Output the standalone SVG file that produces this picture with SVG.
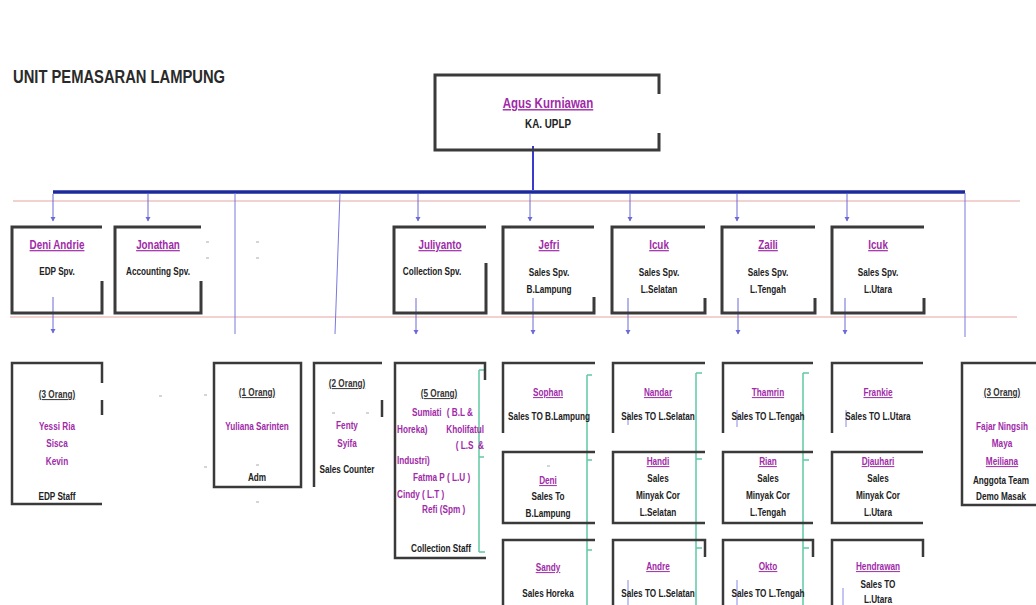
<svg xmlns="http://www.w3.org/2000/svg" width="1036" height="605" viewBox="0 0 1036 605">
<defs>
<marker id="ad" markerUnits="userSpaceOnUse" markerWidth="6" markerHeight="6" refX="3" refY="5" viewBox="0 0 6 6" orient="0">
<path d="M0.5,1 L3,5.5 L5.5,1 Z" fill="#6a6ad8"/>
</marker>
</defs>
<style>
text{font-family:"Liberation Sans",Arial,sans-serif;font-weight:bold;text-anchor:middle}
.title{font-size:18px;fill:#2a2a2a;text-anchor:start}
.boss{font-size:14px;fill:#a02aa8;text-decoration:underline}
.bt{font-size:12px;fill:#222}
.nm{font-size:12px;fill:#a02aa8;text-decoration:underline}
.t{font-size:10px;fill:#222}
.sn{font-size:10px;fill:#a02aa8}
.su{font-size:10px;fill:#a02aa8;text-decoration:underline}
.og{font-size:10px;fill:#333;text-decoration:underline}
.st{text-anchor:start}
.en{text-anchor:end}
.box{fill:none;stroke:#3a3a3a;stroke-width:3}
.box2{fill:none;stroke:#3a3a3a;stroke-width:2.5}
.pink{stroke:#e6a3a3;stroke-width:1;fill:none}
.vl{stroke:#7878e0;stroke-width:1;fill:none}
.arr{stroke:#6a6ad8;stroke-width:1;fill:none;marker-end:url(#ad)}
.grn{stroke:#62c9a2;stroke-width:1.5;fill:none}
.mk{stroke:#aaa;stroke-width:1}
.bm{stroke:#8a8ae6;stroke-width:1}
</style>
<rect width="1036" height="605" fill="#fff"/>
<text class="title" transform="matrix(.82 0 0 1 13 83)">UNIT PEMASARAN LAMPUNG</text>

<g id="connectors">
<line class="pink" x1="13" y1="201" x2="1020" y2="201"/>
<line class="pink" x1="10" y1="317" x2="1017" y2="317"/>
<line x1="533" y1="146" x2="533" y2="190" stroke="#3a3ad0" stroke-width="2"/>
<line x1="53" y1="192" x2="965" y2="192" stroke="#1c2a9c" stroke-width="3.5"/>
<line class="vl" x1="235" y1="193" x2="235" y2="334"/>
<line class="vl" x1="340" y1="193" x2="335" y2="334"/>
<line class="vl" x1="965" y1="193" x2="965" y2="337"/>
<line class="arr" x1="53" y1="194" x2="53" y2="221"/>
<line class="arr" x1="148" y1="194" x2="148" y2="221"/>
<line class="arr" x1="418" y1="194" x2="418" y2="221"/>
<line class="arr" x1="530" y1="194" x2="530" y2="221"/>
<line class="arr" x1="630" y1="194" x2="630" y2="221"/>
<line class="arr" x1="737" y1="194" x2="737" y2="221"/>
<line class="arr" x1="847" y1="194" x2="847" y2="221"/>
<line class="arr" x1="53" y1="297" x2="53" y2="333"/>
<line class="arr" x1="416" y1="298" x2="416" y2="334"/>
<line class="arr" x1="533" y1="298" x2="533" y2="334"/>
<line class="arr" x1="628" y1="298" x2="628" y2="334"/>
<line class="arr" x1="738" y1="298" x2="738" y2="334"/>
<line class="arr" x1="845" y1="298" x2="845" y2="334"/>
<path class="grn" d="M479,370 V552 M479,370 h6 M479,457 h5 M479,552 h6"/>
<path class="grn" d="M587,375 V605 M587,375 h5 M587,460 h5 M587,550 h5"/>
<path class="grn" d="M696,373 V605 M696,373 h6 M696,459 h6 M696,548 h6"/>
<path class="grn" d="M803,373 V605 M803,373 h6 M803,460 h6 M803,548 h6"/>
<path class="bm" d="M628,412 V425 M628,580 V605 M737,410 V427 M737,580 V605 M846,410 V427 M843,588 V605"/>
</g>

<g id="marks">
<path class="mk" d="M206,242 h3 M206,258 h3 M256,242 h3 M256,258 h3 M159,396 h3 M204,395 h3 M204,467 h3 M256,465 h3 M256,502 h3 M332,413 h3 M366,413 h3 M547,466 h3"/>
</g>

<g id="n-agus">
<path class="box" d="M659,94 V75 H435 V150 H659 V133"/>
<text class="boss" transform="matrix(.82 0 0 1 548 108)">Agus Kurniawan</text>
<text class="bt" transform="matrix(.82 0 0 1 548 128)">KA. UPLP</text>
</g>

<g id="n-deni-andrie">
<path class="box" d="M102,281 V313 H12 V227 H102"/>
<text class="nm" transform="matrix(.82 0 0 1 57 249)">Deni Andrie</text>
<text class="t" transform="matrix(.82 0 0 1 57 275)">EDP Spv.</text>
</g>
<g id="n-jonathan">
<path class="box" d="M201,281 V313 H115 V227 H201"/>
<text class="nm" transform="matrix(.82 0 0 1 158 249)">Jonathan</text>
<text class="t" transform="matrix(.82 0 0 1 158 275)">Accounting Spv.</text>
</g>
<g id="n-juliyanto">
<path class="box" d="M486,263 V313 H394 V227 H486"/>
<text class="nm" transform="matrix(.82 0 0 1 440 249)">Juliyanto</text>
<text class="t" transform="matrix(.82 0 0 1 432 275)">Collection Spv.</text>
</g>
<g id="n-jefri">
<path class="box" d="M594,297 V313 H503 V227 H594"/>
<text class="nm" transform="matrix(.82 0 0 1 549 249)">Jefri</text>
<text class="t" transform="matrix(.82 0 0 1 549 276)">Sales Spv.</text>
<text class="t" transform="matrix(.82 0 0 1 549 293)">B.Lampung</text>
</g>
<g id="n-icuk-selatan">
<path class="box" d="M705,298 V313 H612 V227 H705"/>
<text class="nm" transform="matrix(.82 0 0 1 659 249)">Icuk</text>
<text class="t" transform="matrix(.82 0 0 1 659 276)">Sales Spv.</text>
<text class="t" transform="matrix(.82 0 0 1 659 293)">L.Selatan</text>
</g>
<g id="n-zaili">
<path class="box" d="M815,298 V313 H722 V227 H815"/>
<text class="nm" transform="matrix(.82 0 0 1 768 249)">Zaili</text>
<text class="t" transform="matrix(.82 0 0 1 768 276)">Sales Spv.</text>
<text class="t" transform="matrix(.82 0 0 1 768 293)">L.Tengah</text>
</g>
<g id="n-icuk-utara">
<path class="box" d="M924,298 V313 H832 V227 H924"/>
<text class="nm" transform="matrix(.82 0 0 1 878 249)">Icuk</text>
<text class="t" transform="matrix(.82 0 0 1 878 276)">Sales Spv.</text>
<text class="t" transform="matrix(.82 0 0 1 878 293)">L.Utara</text>
</g>

<g id="n-edp-staff">
<path class="box2" d="M102,383 V363 H12 V504 H102 M102,400 V415"/>
<text class="og" transform="matrix(.82 0 0 1 57 398)">(3 Orang)</text>
<text class="sn" transform="matrix(.82 0 0 1 57 430)">Yessi Ria</text>
<text class="sn" transform="matrix(.82 0 0 1 57 447)">Sisca</text>
<text class="sn" transform="matrix(.82 0 0 1 57 465)">Kevin</text>
<text class="t" transform="matrix(.82 0 0 1 57 500)">EDP Staff</text>
</g>
<g id="n-adm">
<rect class="box2" x="214" y="363" width="87" height="124"/>
<text class="og" transform="matrix(.82 0 0 1 257 396)">(1 Orang)</text>
<text class="sn" transform="matrix(.82 0 0 1 257 430)">Yuliana Sarinten</text>
<text class="t" transform="matrix(.82 0 0 1 257 481)">Adm</text>
</g>
<g id="n-sales-counter">
<path class="box2" d="M382,363 H314 V487 M382,400 V417"/>
<text class="og" transform="matrix(.82 0 0 1 347 387)">(2 Orang)</text>
<text class="sn" transform="matrix(.82 0 0 1 347 429)">Fenty</text>
<text class="sn" transform="matrix(.82 0 0 1 347 447)">Syifa</text>
<text class="t" transform="matrix(.82 0 0 1 347 473)">Sales Counter</text>
</g>
<g id="n-collection-staff">
<path class="box2" d="M485,380 V363 H395 V558 H486"/>
<text class="og" transform="matrix(.82 0 0 1 439 397)">(5 Orang)</text>
<text class="sn st" transform="matrix(.82 0 0 1 412 416)">Sumiati</text>
<text class="sn en" transform="matrix(.82 0 0 1 473 416)">( B.L &amp;</text>
<text class="sn st" transform="matrix(.82 0 0 1 397 433)">Horeka)</text>
<text class="sn en" transform="matrix(.82 0 0 1 484 433)">Kholifatul</text>
<text class="sn en" transform="matrix(.82 0 0 1 484 449)" xml:space="preserve">( L.S  &amp;</text>
<text class="sn st" transform="matrix(.82 0 0 1 397 464)">Industri)</text>
<text class="sn st" transform="matrix(.82 0 0 1 413 481)">Fatma P ( L.U )</text>
<text class="sn st" transform="matrix(.82 0 0 1 397 498)">Cindy ( L.T )</text>
<text class="sn st" transform="matrix(.82 0 0 1 422 513)">Refi (Spm )</text>
<text class="t" transform="matrix(.82 0 0 1 441 552)">Collection Staff</text>
</g>

<g id="n-sophan">
<path class="box2" d="M595,363 H503 V433"/>
<text class="su" transform="matrix(.82 0 0 1 548 396)">Sophan</text>
<text class="t" transform="matrix(.82 0 0 1 549 420)">Sales TO B.Lampung</text>
</g>
<g id="n-deni">
<path class="box2" d="M595,452 H503 V523 H595"/>
<text class="su" transform="matrix(.82 0 0 1 548 484)">Deni</text>
<text class="t" transform="matrix(.82 0 0 1 548 500)">Sales To</text>
<text class="t" transform="matrix(.82 0 0 1 548 517)">B.Lampung</text>
</g>
<g id="n-sandy">
<path class="box2" d="M595,540 H503 V605"/>
<text class="su" transform="matrix(.82 0 0 1 548 571)">Sandy</text>
<text class="t" transform="matrix(.82 0 0 1 548 597)">Sales Horeka</text>
</g>

<g id="n-nandar">
<path class="box2" d="M705,363 H613 V433"/>
<text class="su" transform="matrix(.82 0 0 1 658 396)">Nandar</text>
<text class="t" transform="matrix(.82 0 0 1 658 420)">Sales TO L.Selatan</text>
</g>
<g id="n-handi">
<path class="box2" d="M705,452 H613 V523 H705"/>
<text class="su" transform="matrix(.82 0 0 1 658 465)">Handi</text>
<text class="t" transform="matrix(.82 0 0 1 658 482)">Sales</text>
<text class="t" transform="matrix(.82 0 0 1 658 499)">Minyak Cor</text>
<text class="t" transform="matrix(.82 0 0 1 658 516)">L.Selatan</text>
</g>
<g id="n-andre">
<path class="box2" d="M705,557 V540 H613 V605"/>
<text class="su" transform="matrix(.82 0 0 1 658 570)">Andre</text>
<text class="t" transform="matrix(.82 0 0 1 658 597)">Sales TO L.Selatan</text>
</g>

<g id="n-thamrin">
<path class="box2" d="M813,363 H723 V433"/>
<text class="su" transform="matrix(.82 0 0 1 768 396)">Thamrin</text>
<text class="t" transform="matrix(.82 0 0 1 768 420)">Sales TO L.Tengah</text>
</g>
<g id="n-rian">
<path class="box2" d="M813,452 H723 V523 H813"/>
<text class="su" transform="matrix(.82 0 0 1 768 465)">Rian</text>
<text class="t" transform="matrix(.82 0 0 1 768 482)">Sales</text>
<text class="t" transform="matrix(.82 0 0 1 768 499)">Minyak Cor</text>
<text class="t" transform="matrix(.82 0 0 1 768 516)">L.Tengah</text>
</g>
<g id="n-okto">
<path class="box2" d="M813,557 V540 H723 V605"/>
<text class="su" transform="matrix(.82 0 0 1 768 570)">Okto</text>
<text class="t" transform="matrix(.82 0 0 1 768 597)">Sales TO L.Tengah</text>
</g>

<g id="n-frankie">
<path class="box2" d="M923,363 H832 V433"/>
<text class="su" transform="matrix(.82 0 0 1 878 396)">Frankie</text>
<text class="t" transform="matrix(.82 0 0 1 878 420)">Sales TO L.Utara</text>
</g>
<g id="n-djauhari">
<path class="box2" d="M923,452 H832 V523 H923"/>
<text class="su" transform="matrix(.82 0 0 1 878 465)">Djauhari</text>
<text class="t" transform="matrix(.82 0 0 1 878 482)">Sales</text>
<text class="t" transform="matrix(.82 0 0 1 878 499)">Minyak Cor</text>
<text class="t" transform="matrix(.82 0 0 1 878 516)">L.Utara</text>
</g>
<g id="n-hendrawan">
<path class="box2" d="M923,557 V540 H832 V605"/>
<text class="su" transform="matrix(.82 0 0 1 878 570)">Hendrawan</text>
<text class="t" transform="matrix(.82 0 0 1 878 588)">Sales TO</text>
<text class="t" transform="matrix(.82 0 0 1 878 603)">L.Utara</text>
</g>

<g id="n-demo-masak">
<path class="box2" d="M1040,363 H962 V505 H1040"/>
<text class="og" transform="matrix(.82 0 0 1 1002 396)">(3 Orang)</text>
<text class="sn" transform="matrix(.82 0 0 1 1002 430)">Fajar Ningsih</text>
<text class="sn" transform="matrix(.82 0 0 1 1002 447)">Maya</text>
<text class="su" transform="matrix(.82 0 0 1 1002 465)">Meiliana</text>
<text class="t" transform="matrix(.82 0 0 1 1001 484)">Anggota Team</text>
<text class="t" transform="matrix(.82 0 0 1 1001 500)">Demo Masak</text>
</g>
</svg>
